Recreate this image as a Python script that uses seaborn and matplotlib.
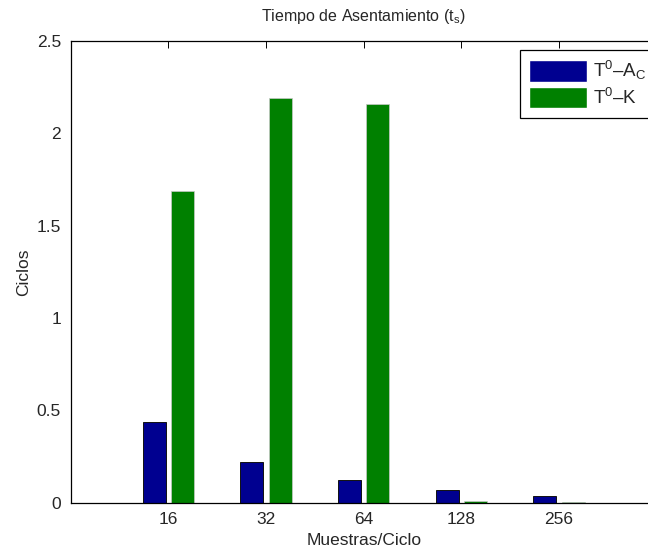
import matplotlib
matplotlib.use("Agg")
import matplotlib.pyplot as plt
import seaborn as sns
import pandas as pd

# Settling time per samples-per-cycle setting
muestras = ["16", "32", "64", "128", "256"]
t0_ac = [0.437, 0.219, 0.123, 0.069, 0.038]
t0_k = [1.689, 2.190, 2.157, 0.008, 0.004]
series = ["T$^0$\u2013A$_C$", "T$^0$\u2013K"]
colores = ["#000090", "#008000"]
yticks = [0, 0.5, 1, 1.5, 2, 2.5]
ytick_labels = ["0", "0.5", "1", "1.5", "2", "2.5"]

df = pd.DataFrame({
    "Muestras": muestras * 2,
    "Ciclos": t0_ac + t0_k,
    "Serie": [series[0]] * len(muestras) + [series[1]] * len(muestras),
})

sns.set_style("white")
plt.rcParams["font.family"] = ["Liberation Sans", "DejaVu Sans"]
plt.rcParams["mathtext.fontset"] = "custom"
plt.rcParams["mathtext.rm"] = "Liberation Sans"
plt.rcParams["mathtext.it"] = "Liberation Sans"
plt.rcParams["mathtext.default"] = "regular"

fig = plt.figure(figsize=(6.48, 5.55), dpi=100)
ax = fig.add_axes([0.109, 0.0942, 0.9045, 0.8322])

sns.barplot(data=df, x="Muestras", y="Ciclos", hue="Serie", order=muestras,
            hue_order=series, palette=colores, width=0.58, gap=0.19,
            saturation=1, ax=ax, legend=True)

# bar outlines: dark edge on the first series, faint edge on the second
n = len(muestras)
for i, p in enumerate(ax.patches[:2 * n]):
    if i < n:
        p.set_edgecolor("#111111")
        p.set_linewidth(0.7)
    else:
        p.set_edgecolor("#c8c8c8")
        p.set_linewidth(0.5)

ax.set_xlim(-1, 5)
ax.set_ylim(0, 2.5)
ax.set_yticks(yticks)
ax.set_yticklabels(ytick_labels)
ax.set_xticks(range(n))
ax.set_xticklabels(muestras)

ax.tick_params(axis="both", direction="in", length=5, width=0.7,
               top=True, right=True, labelsize=12.5, pad=7, color="black")
for s in ax.spines.values():
    s.set_visible(True)
    s.set_color("black")
    s.set_linewidth(0.9)

ax.set_xlabel("Muestras/Ciclo", fontsize=12.5, labelpad=4)
ax.set_ylabel("Ciclos", fontsize=12.5, labelpad=4)
ax.set_title("Tiempo de Asentamiento (t$_{s}$)", fontsize=11.5, pad=14)

handles, labels = ax.get_legend_handles_labels()
ax.legend(handles, labels, loc="upper left",
          bbox_to_anchor=(519.5 / 648, 1 - 49.5 / 555),
          bbox_transform=fig.transFigure, borderaxespad=0,
          fontsize=13.5, frameon=True, fancybox=False, edgecolor="black",
          framealpha=1, handlelength=3.1, handleheight=1.4,
          handletextpad=0.3, labelspacing=0.25, borderpad=0.5)
ax.get_legend().get_frame().set_linewidth(0.9)

fig.savefig("out.png", dpi=100)
